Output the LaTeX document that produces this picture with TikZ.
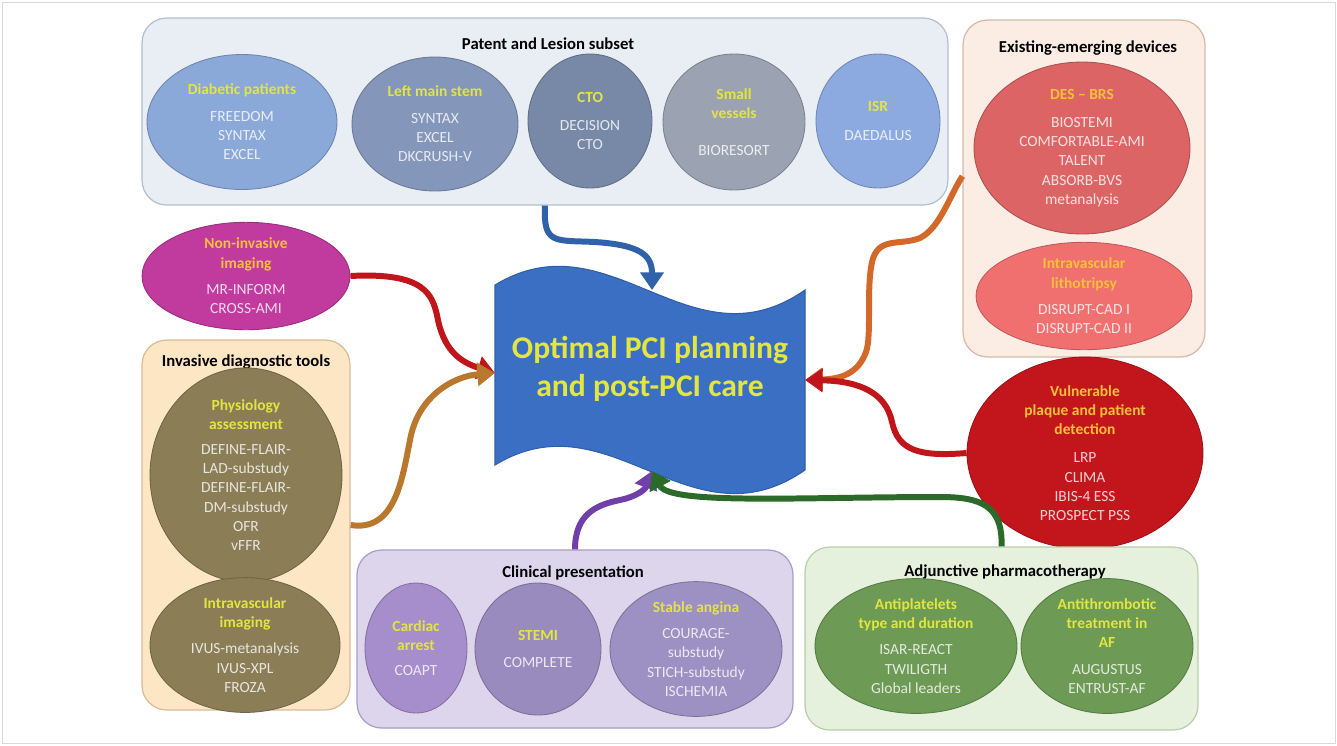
\documentclass[tikz,border=0pt]{standalone}
\usepackage{fontspec}
\setmainfont{Carlito}
\usepackage{tikz}
\usetikzlibrary{arrows.meta, positioning, shapes.geometric}
\definecolor{hdlime}{HTML}{E2E540}
\definecolor{hdgold}{HTML}{F7BF3A}
\definecolor{titleyel}{HTML}{E3E63E}
\definecolor{goalblue}{HTML}{3A6FC4}
% panel colours
\definecolor{patbg}{HTML}{E9EEF5}
\definecolor{patln}{HTML}{B3BFD0}
\definecolor{devbg}{HTML}{FBEDE4}
\definecolor{devln}{HTML}{D8B8A8}
\definecolor{invbg}{HTML}{FDE6C4}
\definecolor{invln}{HTML}{D8BC96}
\definecolor{clibg}{HTML}{DDD5EC}
\definecolor{cliln}{HTML}{A99CC6}
\definecolor{adjbg}{HTML}{E5F0DD}
\definecolor{adjln}{HTML}{B9CFAA}
% bubble colours
\definecolor{diabc}{HTML}{8AA8D8}
\definecolor{lmsc}{HTML}{8497BA}
\definecolor{ctoc}{HTML}{7889A8}
\definecolor{svc}{HTML}{9BA3B3}
\definecolor{isrc}{HTML}{8CAAE0}
\definecolor{desc}{HTML}{DC6464}
\definecolor{ivlc}{HTML}{F07070}
\definecolor{vulc}{HTML}{C3161C}
\definecolor{nonc}{HTML}{C13A9E}
\definecolor{olivec}{HTML}{8B7E57}
\definecolor{arrc}{HTML}{A68DCB}
\definecolor{stemic}{HTML}{9A8BBE}
\definecolor{stabc}{HTML}{9D90C2}
\definecolor{pharc}{HTML}{6D9A55}
% arrow colours
\definecolor{arblue}{HTML}{2F62A8}
\definecolor{arred}{HTML}{C0161B}
\definecolor{arbrown}{HTML}{B8782E}
\definecolor{arorange}{HTML}{D2692A}
\definecolor{arpurple}{HTML}{7040A8}
\definecolor{argreen}{HTML}{2B6A28}

\newcommand{\bodytext}{\fontsize{8.8}{11}\selectfont}
\newcommand{\titletext}{\fontsize{18}{21.5}\selectfont\bfseries}
\newcommand{\hd}[1]{\textbf{\color{hdlime}#1}}
\newcommand{\hg}[1]{\textbf{\color{hdgold}#1}}

\begin{document}
\begin{tikzpicture}[
  x=0.02cm, y=-0.02cm,
  panel/.style={rounded corners=14pt, line width=0.7pt, inner sep=0pt},
  ptitle/.style={font=\fontsize{9.5}{11}\selectfont\bfseries, text=black, inner sep=0pt},
  bub/.style={ellipse, inner sep=0pt, align=center, font=\bodytext,
              fill=#1, draw=#1!80!black, line width=0.5pt, text=white!80!#1},
  flow/.style={line width=3.4pt, draw=#1, -{Triangle[width=13pt,length=10pt]}}
]
  \useasboundingbox (0,0) rectangle (1337,745);
  \draw[gray!30, line width=0.5pt] (2,2) rectangle (1335,743);

  % Top panel - patient and lesion subset
  \node[panel, fill=patbg, draw=patln, minimum width=16.12cm, minimum height=3.74cm]
    (patent) at (545,111.5) {};
  \node[ptitle] (patent-t) at (548,44) {Patent and Lesion subset};
  \node[bub=diabc, minimum width=3.8cm, minimum height=2.7cm] (diab) at (242,122)
    {\hd{Diabetic patients}\\[4pt] FREEDOM\\ SYNTAX\\ EXCEL};
  \node[bub=lmsc, minimum width=3.32cm, minimum height=2.68cm] (lms) at (435,124)
    {\hd{Left main stem}\\[4pt] SYNTAX\\ EXCEL\\ DKCRUSH-V};
  \node[bub=ctoc, minimum width=2.48cm, minimum height=2.68cm] (cto) at (590,121)
    {\hd{CTO}\\[5pt] DECISION\\ CTO};
  \node[bub=svc, minimum width=2.84cm, minimum height=2.72cm] (smallv) at (734,122)
    {\hd{Small}\\ \hd{vessels}\\[10pt] BIORESORT};
  \node[bub=isrc, minimum width=2.48cm, minimum height=2.68cm] (isr) at (878,121)
    {\hd{ISR}\\[6pt] DAEDALUS};

  % Right panel - devices
  \node[panel, fill=devbg, draw=devln, minimum width=4.84cm, minimum height=6.74cm]
    (devices) at (1084,188.5) {};
  \node[ptitle] (devices-t) at (1088,48) {Existing-emerging devices};
  \node[bub=desc, minimum width=4.32cm, minimum height=3.44cm] (des) at (1082,148)
    {\hg{DES -- BRS}\\[5pt] BIOSTEMI\\ COMFORTABLE-AMI\\ TALENT\\ ABSORB-BVS\\ metanalysis};
  \node[bub=ivlc, minimum width=4.32cm, minimum height=1.92cm] (ivl) at (1084,296)
    {\hg{Intravascular}\\ \hg{lithotripsy}\\[4pt] DISRUPT-CAD I\\ DISRUPT-CAD II};
  \node[bub=vulc, minimum width=4.72cm, minimum height=3.48cm] (vuln) at (1085,453)
    {\hg{Vulnerable}\\ \hg{plaque and patient}\\ \hg{detection}\\[5pt] LRP\\ CLIMA\\ IBIS-4 ESS\\ PROSPECT PSS};

  % Left side - imaging and invasive tools
  \node[bub=nonc, minimum width=4.16cm, minimum height=2.08cm] (noninv) at (246,276)
    {\hg{Non-invasive}\\ \hg{imaging}\\[4pt] MR-INFORM\\ CROSS-AMI};
  \node[panel, fill=invbg, draw=invln, minimum width=4.16cm, minimum height=7.4cm]
    (invasive) at (246,525) {};
  \node[ptitle] (invasive-t) at (246,362) {Invasive diagnostic tools};
  \node[bub=olivec, minimum width=3.84cm, minimum height=4.0cm] (phys) at (246,475)
    {\hd{Physiology}\\ \hd{assessment}\\[3pt] DEFINE-FLAIR-\\ LAD-substudy\\ DEFINE-FLAIR-\\ DM-substudy\\ OFR\\ vFFR};
  \node[bub=olivec, minimum width=3.8cm, minimum height=2.36cm] (ivi) at (245,645)
    {\hd{Intravascular}\\ \hd{imaging}\\[4pt] IVUS-metanalysis\\ IVUS-XPL\\ FROZA};

  % Bottom panels
  \node[panel, fill=clibg, draw=cliln, minimum width=8.72cm, minimum height=3.56cm]
    (clinical) at (575,639) {};
  \node[ptitle] (clinical-t) at (573,573) {Clinical presentation};
  \node[bub=arrc, minimum width=2.04cm, minimum height=2.6cm] (arrest) at (416,648)
    {\hd{Cardiac}\\ \hd{arrest}\\[3pt] COAPT};
  \node[bub=stemic, minimum width=2.52cm, minimum height=2.64cm] (stemi) at (538,649)
    {\hd{STEMI}\\[4pt] COMPLETE};
  \node[bub=stabc, minimum width=3.44cm, minimum height=2.48cm] (stable) at (696,649)
    {\hd{Stable angina}\\[4pt] COURAGE-\\ substudy\\ STICH-substudy\\ ISCHEMIA};

  \node[panel, fill=adjbg, draw=adjln, minimum width=7.86cm, minimum height=3.66cm]
    (adjunct) at (1001.5,638.5) {};
  \node[ptitle] (adjunct-t) at (1005,572) {Adjunctive pharmacotherapy};
  \node[bub=pharc, minimum width=4.04cm, minimum height=2.64cm] (antipl) at (916,646)
    {\hd{Antiplatelets}\\ \hd{type and duration}\\[4pt] ISAR-REACT\\ TWILIGTH\\ Global leaders};
  \node[bub=pharc, minimum width=3.44cm, minimum height=2.68cm] (antith) at (1107,646)
    {\hd{Antithrombotic}\\ \hd{treatment in}\\ \hd{AF}\\[4pt] AUGUSTUS\\ ENTRUST-AF};

  % Central wave
  \filldraw[fill=goalblue, draw=goalblue!85!black, line width=0.6pt]
    (495,285) .. controls (610,215) and (690,370) .. (805,290)
    -- (805,470) .. controls (690,550) and (610,395) .. (495,465) -- cycle;
  \node[font=\titletext, text=titleyel, align=center] (goal) at (650,369)
    {Optimal PCI planning\\and post-PCI care};
  \coordinate (goal-n) at (652,290);
  \coordinate (goal-w) at (495,373);
  \coordinate (goal-e) at (805,380);
  \coordinate (goal-s) at (652,471);

  % Arrows
  \draw[flow=arblue] (patent.south) .. controls (543,245) and (555,240) .. (595,242)
    .. controls (640,245) and (652,255) .. (goal-n);
  \draw[flow=arred] (noninv.east) .. controls (425,272) and (432,295) .. (437,315)
    .. controls (443,350) and (460,362) .. (goal-w);
  \draw[flow=arbrown] (invasive.east) .. controls (395,532) and (402,480) .. (410,440)
    .. controls (418,395) and (455,376) .. (goal-w);
  \draw[flow=arorange] ([yshift=7pt]devices.west) .. controls (950,195) and (940,228) .. (920,238)
    .. controls (900,246) and (878,236) .. (872,262)
    .. controls (866,290) and (872,335) .. (866,352)
    .. controls (858,374) and (840,379) .. (goal-e);
  \draw[flow=arred] (vuln.west) .. controls (918,457) and (898,450) .. (892,422)
    .. controls (886,393) and (860,381) .. (goal-e);
  \draw[flow=arpurple] (clinical.north) .. controls (575,515) and (595,505) .. (620,500)
    .. controls (635,497) and (645,490) .. (goal-s);
  \draw[flow=argreen] (adjunct.north) .. controls (1003,505) and (980,497) .. (940,497)
    .. controls (800,497) and (670,505) .. (goal-s);
\end{tikzpicture}
\end{document}
